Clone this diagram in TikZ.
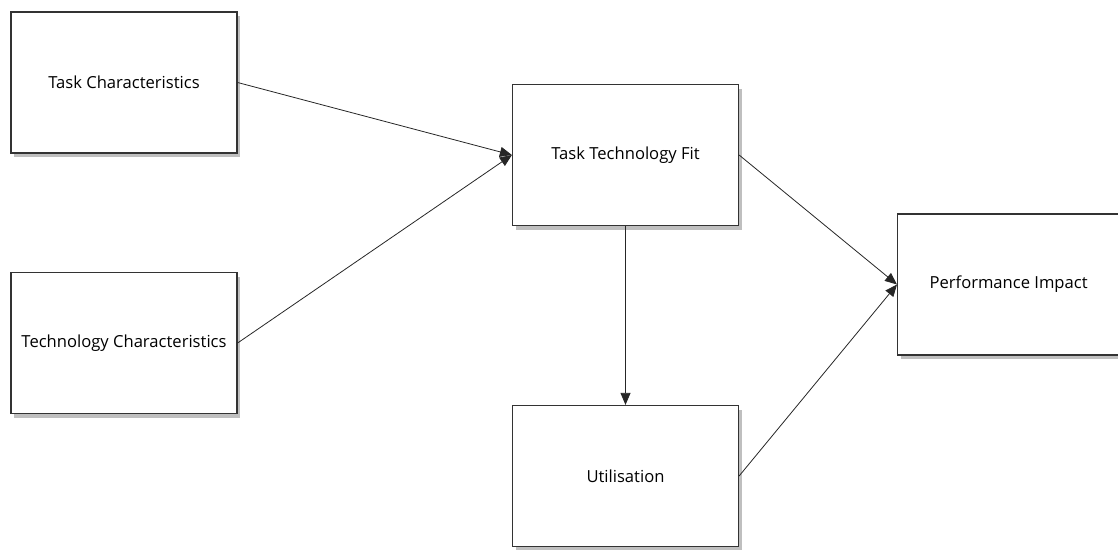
\documentclass[tikz,border=0pt]{standalone}
\usepackage{fontspec}
\setmainfont{Open Sans}
\usetikzlibrary{arrows.meta,shadows}
\begin{document}
\begin{tikzpicture}[x=1pt,y=-1pt,
  box/.style={draw=black!80,line width=1.2pt,fill=white,minimum width=226pt,minimum height=141pt,inner sep=0pt,
    font=\fontsize{16.6}{19}\selectfont,
    drop shadow={shadow xshift=3pt,shadow yshift=-4pt,fill=black,opacity=0.25}},
  conn/.style={draw=black!85,line width=0.8pt,-{Triangle[length=12pt,width=10pt]}}]
\useasboundingbox (0,0) rectangle (1118,549);
\node[box] (tc) at (124,82.5) {Task Characteristics};
\node[box] (tech) at (124,343) {Technology Characteristics};
\node[box] (ttf) at (625.5,155) {Task Technology Fit};
\node[box] (util) at (625.5,476) {Utilisation};
\node[box,minimum width=222pt,anchor=west] (pi) at (897,284.5) {Performance Impact};
\draw[conn] (tc.east) -- (ttf.west);
\draw[conn] (tech.east) -- (ttf.west);
\draw[conn] (ttf.south) -- (util.north);
\draw[conn] (ttf.east) -- (pi.west);
\draw[conn] (util.east) -- (pi.west);
\end{tikzpicture}
\end{document}
